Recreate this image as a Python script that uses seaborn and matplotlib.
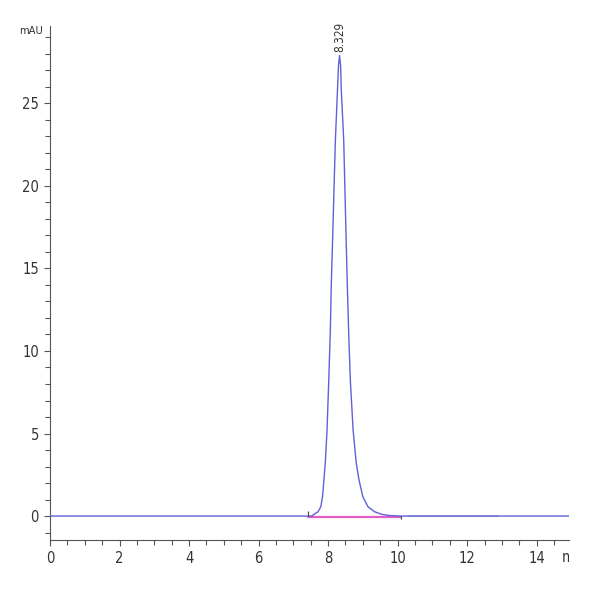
import matplotlib
matplotlib.use("Agg")
import matplotlib.pyplot as plt
from matplotlib.patches import Rectangle
from matplotlib.ticker import MultipleLocator
import seaborn as sns
import pandas as pd

# chromatogram trace (min, mAU)
time_min = [0.0, 7.42, 7.52, 7.71, 7.79, 7.84, 7.88, 7.92, 7.97, 8.02, 8.065,
            8.09, 8.13, 8.21, 8.27, 8.30, 8.329, 8.36, 8.38, 8.45, 8.52, 8.555,
            8.59, 8.64, 8.72, 8.81, 8.89, 9.00, 9.15, 9.34, 9.55, 9.77, 10.1, 14.93]
signal_mau = [0.0, 0.0, 0.0, 0.26, 0.56, 1.17, 2.18, 3.21, 5.21, 8.24, 11.27,
              13.87, 16.72, 22.77, 25.8, 27.3, 27.9, 27.3, 25.8, 22.77, 16.72, 13.87,
              11.27, 8.24, 5.21, 3.21, 2.18, 1.17, 0.56, 0.26, 0.1, 0.03, 0.0, 0.0]

# integration baseline and events
base_t = [7.42, 10.1]
base_y = [-0.06, -0.06]
grey_t = [10.3, 12.9]
grey_y = [0.03, 0.03]
event_t = [7.42, 10.1]
event_lo = [0.0, -0.2]
event_hi = [0.3, 0.0]

peak_rt = 8.329
peak_h = 27.9

df = pd.DataFrame({"t": time_min, "y": signal_mau})

sns.set_style("ticks")
plt.rcParams["font.family"] = ["DejaVu Sans"]
plt.rcParams["font.stretch"] = "condensed"

fig = plt.figure(figsize=(6, 6), dpi=100)
ax = fig.add_axes([0.0833, 0.1, 0.865, 0.857])

axis_col = "#555555"
ax.plot(grey_t, grey_y, color="#b8b8c8", lw=1.2, zorder=1)
ax.plot(base_t, base_y, color="#e060c8", lw=1.6, zorder=2)
sns.lineplot(data=df, x="t", y="y", sort=False, estimator=None,
             color="#6060d8", lw=1.0, ax=ax, zorder=3)
ax.vlines(event_t, event_lo, event_hi, color="#444444", lw=0.8, zorder=4)

ax.text(peak_rt, peak_h + 0.2, "8.329", rotation=90, ha="center", va="bottom",
        fontsize=8.5, color="#333333")

ax.set_xlim(0, 14.93)
ax.set_ylim(-1.45, 29.7)
ax.xaxis.set_major_locator(MultipleLocator(2))
ax.xaxis.set_minor_locator(MultipleLocator(0.5))
ax.yaxis.set_major_locator(MultipleLocator(5))
ax.yaxis.set_minor_locator(MultipleLocator(1))
ax.set_xlabel("")
ax.set_ylabel("")

sns.despine(ax=ax)
for s in ["left", "bottom"]:
    ax.spines[s].set_color(axis_col)
    ax.spines[s].set_linewidth(0.8)
ax.tick_params(which="both", direction="out", color=axis_col, width=0.8,
               labelsize=10.5, labelcolor="#333333")
ax.tick_params(which="major", length=4, pad=4)
ax.tick_params(which="minor", length=3.5)

fig.text(0.072, 0.948, "mAU", ha="right", va="center", fontsize=8, color="#333333")
lbl = fig.text(0.937, 0.07, "min", ha="left", va="center", fontsize=10.5, color="#333333")
clip = Rectangle((0, 0), 0.949, 1, transform=fig.transFigure, visible=False)
fig.add_artist(clip)
lbl.set_clip_path(clip)

fig.savefig("out.png", dpi=100)
